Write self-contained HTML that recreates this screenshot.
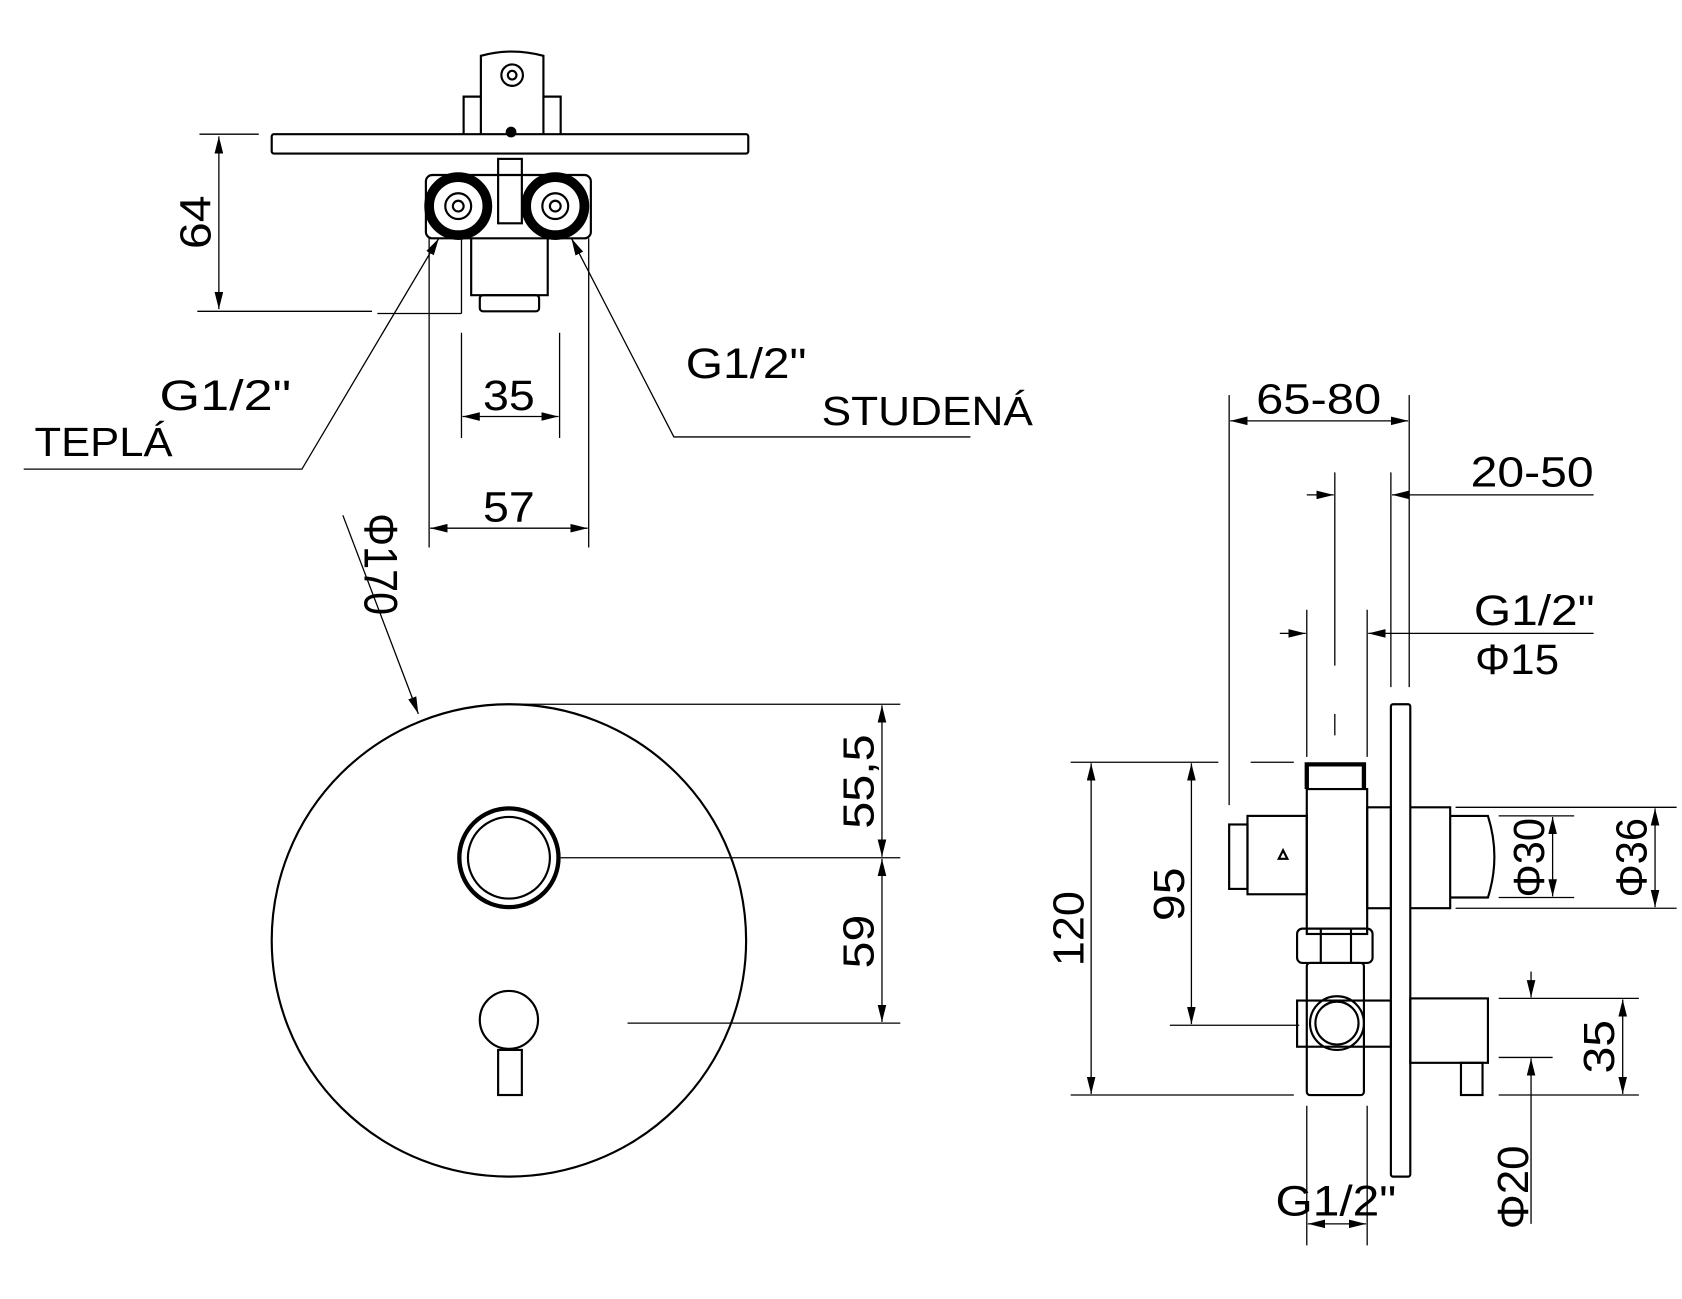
<!DOCTYPE html>
<html><head><meta charset="utf-8"><style>html,body{margin:0;padding:0;background:#fff}svg{display:block}</style></head>
<body>
<svg width="1682" height="1299" viewBox="0 0 1560 1210" preserveAspectRatio="none" xmlns="http://www.w3.org/2000/svg" font-family="Liberation Sans, sans-serif">
<defs>
<marker id="b" viewBox="0 0 16 8" refX="16" refY="4" markerWidth="16" markerHeight="8" orient="auto-start-reverse" markerUnits="userSpaceOnUse"><path d="M0,0 L16,4 L0,8 z" fill="#000"/></marker>
</defs>
<g fill="none" stroke="#000" stroke-width="2">
<rect x="252" y="125" width="442" height="18" rx="2"/>
<path d="M430,125 V90 H446 V52 Q475,44 504,52 V90 H520 V125"/>
<line x1="446" y1="90" x2="446" y2="125"/><line x1="504" y1="90" x2="504" y2="125"/>
<circle cx="475" cy="70" r="10"/><circle cx="475" cy="70" r="4"/><circle cx="474" cy="123" r="4" fill="#000"/>
<rect x="395" y="163" width="153" height="59" rx="6"/>
<circle cx="425" cy="192" r="27" stroke-width="9"/><circle cx="425" cy="192" r="12"/><circle cx="425" cy="192" r="5"/>
<circle cx="515" cy="192" r="27" stroke-width="9"/><circle cx="515" cy="192" r="12"/><circle cx="515" cy="192" r="5"/>
<rect x="462" y="148" width="22" height="60"/>
<path d="M437,222 V275 H508 V222"/>
<rect x="445" y="275" width="55" height="15" rx="3"/>
<g stroke-width="1.2">
<line x1="185" y1="125" x2="240" y2="125"/><line x1="183" y1="290" x2="345" y2="290"/>
<line x1="203" y1="127" x2="203" y2="288" marker-start="url(#b)" marker-end="url(#b)"/>
<line x1="398" y1="222" x2="398" y2="510"/><line x1="546" y1="222" x2="546" y2="510"/>
<line x1="428" y1="310" x2="428" y2="408"/><line x1="519" y1="310" x2="519" y2="408"/>
<line x1="428" y1="222" x2="428" y2="292"/><line x1="350" y1="292" x2="428" y2="292"/>
<line x1="429" y1="388" x2="518" y2="388" marker-start="url(#b)" marker-end="url(#b)"/>
<line x1="399" y1="492" x2="545" y2="492" marker-start="url(#b)" marker-end="url(#b)"/>
<polyline points="22,437 280,437 407,222" marker-end="url(#b)"/>
<polyline points="900,407 625,407 530,222" marker-end="url(#b)"/>
<line x1="318" y1="480" x2="388" y2="665" marker-end="url(#b)"/>
</g>
<circle cx="472" cy="876" r="220"/>
<circle cx="472" cy="799" r="46" stroke-width="4"/><circle cx="472" cy="799" r="38"/>
<circle cx="472" cy="950" r="27"/>
<rect x="462" y="978" width="22" height="42"/>
<g stroke-width="1.2">
<line x1="472" y1="656" x2="835" y2="656"/><line x1="520" y1="799" x2="835" y2="799"/><line x1="582" y1="953" x2="835" y2="953"/>
<line x1="818" y1="657" x2="818" y2="798" marker-start="url(#b)" marker-end="url(#b)"/>
<line x1="818" y1="800" x2="818" y2="952" marker-start="url(#b)" marker-end="url(#b)"/>
</g>
<rect x="1290" y="656" width="18" height="440" rx="2"/>
<path d="M1212,735 V712 H1265 V735" stroke-width="4"/>
<rect x="1212" y="735" width="56" height="135"/>
<rect x="1157" y="760" width="55" height="73"/>
<rect x="1140" y="768" width="17" height="60"/>
<path d="M1186,800 l4,-8 l4,8 z"/>
<rect x="1268" y="752" width="22" height="94"/>
<path d="M1308,752 H1345 V846 H1308"/>
<path d="M1345,760 H1380 Q1392,798 1380,836 H1345"/>
<rect x="1203" y="865" width="70" height="32" rx="5"/>
<line x1="1225" y1="865" x2="1225" y2="897"/><line x1="1253" y1="865" x2="1253" y2="897"/>
<rect x="1212" y="897" width="53" height="123" rx="3"/>
<rect x="1203" y="932" width="87" height="43"/>
<circle cx="1240" cy="953" r="25"/><circle cx="1240" cy="953" r="20"/>
<rect x="1308" y="930" width="72" height="60"/>
<rect x="1355" y="990" width="20" height="30"/>
<g stroke-width="1.2">
<line x1="1140" y1="368" x2="1140" y2="750"/><line x1="1307" y1="368" x2="1307" y2="640"/>
<line x1="1290" y1="440" x2="1290" y2="640"/>
<line x1="1238" y1="440" x2="1238" y2="620"/><line x1="1238" y1="665" x2="1238" y2="685"/>
<line x1="1212" y1="568" x2="1212" y2="705"/><line x1="1268" y1="568" x2="1268" y2="705"/>
<line x1="1141" y1="392" x2="1306" y2="392" marker-start="url(#b)" marker-end="url(#b)"/>
<line x1="1212" y1="461" x2="1237" y2="461" marker-end="url(#b)"/>
<line x1="1478" y1="461" x2="1291" y2="461" marker-end="url(#b)"/>
<line x1="1187" y1="590" x2="1211" y2="590" marker-end="url(#b)"/>
<line x1="1478" y1="590" x2="1269" y2="590" marker-end="url(#b)"/>
<line x1="993" y1="710" x2="1130" y2="710"/><line x1="1160" y1="710" x2="1200" y2="710"/>
<line x1="993" y1="1020" x2="1200" y2="1020"/>
<line x1="1012" y1="711" x2="1012" y2="1019" marker-start="url(#b)" marker-end="url(#b)"/>
<line x1="1085" y1="955" x2="1205" y2="955"/>
<line x1="1105" y1="711" x2="1105" y2="954" marker-start="url(#b)" marker-end="url(#b)"/>
<line x1="1350" y1="752" x2="1555" y2="752"/><line x1="1350" y1="846" x2="1555" y2="846"/>
<line x1="1390" y1="760" x2="1460" y2="760"/><line x1="1390" y1="836" x2="1460" y2="836"/>
<line x1="1440" y1="761" x2="1440" y2="835" marker-start="url(#b)" marker-end="url(#b)"/>
<line x1="1535" y1="753" x2="1535" y2="845" marker-start="url(#b)" marker-end="url(#b)"/>
<line x1="1390" y1="930" x2="1520" y2="930"/><line x1="1390" y1="985" x2="1440" y2="985"/>
<line x1="1390" y1="1020" x2="1520" y2="1020"/>
<line x1="1505" y1="931" x2="1505" y2="1019" marker-start="url(#b)" marker-end="url(#b)"/>
<line x1="1420" y1="905" x2="1420" y2="929" marker-end="url(#b)"/>
<line x1="1420" y1="1140" x2="1420" y2="986" marker-end="url(#b)"/>
<line x1="1212" y1="1030" x2="1212" y2="1160"/><line x1="1268" y1="1030" x2="1268" y2="1160"/>
<line x1="1213" y1="1140" x2="1267" y2="1140" marker-start="url(#b)" marker-end="url(#b)"/>
</g>
</g>
<g fill="#000" font-size="40">
<text x="0" y="0" transform="translate(195,232) rotate(-90)" textLength="50" lengthAdjust="spacingAndGlyphs">64</text>
<text x="148" y="382" textLength="122" lengthAdjust="spacingAndGlyphs">G1/2"</text>
<text x="32" y="425" font-size="38" textLength="128" lengthAdjust="spacingAndGlyphs">TEPLÁ</text>
<text x="636" y="352" textLength="112" lengthAdjust="spacingAndGlyphs">G1/2"</text>
<text x="762" y="396" font-size="38" textLength="196" lengthAdjust="spacingAndGlyphs">STUDENÁ</text>
<text x="448" y="382" textLength="48" lengthAdjust="spacingAndGlyphs">35</text>
<text x="448" y="486" textLength="48" lengthAdjust="spacingAndGlyphs">57</text>
<text x="0" y="0" font-size="44" transform="translate(338,478) rotate(90)" textLength="95" lengthAdjust="spacingAndGlyphs">Φ170</text>
<text x="0" y="0" transform="translate(810,772) rotate(-90)" textLength="88" lengthAdjust="spacingAndGlyphs">55,5</text>
<text x="0" y="0" transform="translate(810,902) rotate(-90)" textLength="50" lengthAdjust="spacingAndGlyphs">59</text>
<text x="1165" y="385" textLength="116" lengthAdjust="spacingAndGlyphs">65-80</text>
<text x="1364" y="453" textLength="114" lengthAdjust="spacingAndGlyphs">20-50</text>
<text x="1367" y="582" textLength="112" lengthAdjust="spacingAndGlyphs">G1/2"</text>
<text x="1368" y="628" textLength="78" lengthAdjust="spacingAndGlyphs">Φ15</text>
<text x="0" y="0" transform="translate(1005,900) rotate(-90)" textLength="70" lengthAdjust="spacingAndGlyphs">120</text>
<text x="0" y="0" transform="translate(1098,858) rotate(-90)" textLength="50" lengthAdjust="spacingAndGlyphs">95</text>
<text x="0" y="0" transform="translate(1432,836) rotate(-90)" textLength="74" lengthAdjust="spacingAndGlyphs">Φ30</text>
<text x="0" y="0" transform="translate(1527,836) rotate(-90)" textLength="74" lengthAdjust="spacingAndGlyphs">Φ36</text>
<text x="0" y="0" transform="translate(1497,1000) rotate(-90)" textLength="50" lengthAdjust="spacingAndGlyphs">35</text>
<text x="0" y="0" transform="translate(1417,1145) rotate(-90)" textLength="78" lengthAdjust="spacingAndGlyphs">Φ20</text>
<text x="1183" y="1132" textLength="112" lengthAdjust="spacingAndGlyphs">G1/2"</text>
</g>
</svg>
</body></html>
